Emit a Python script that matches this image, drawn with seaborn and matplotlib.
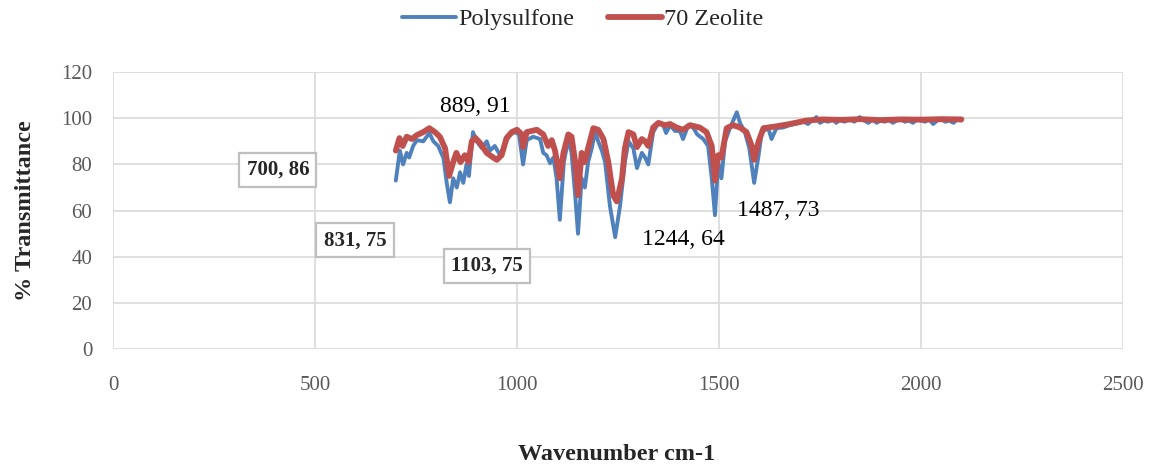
import numpy as np
import pandas as pd
import seaborn as sns
import matplotlib
matplotlib.use("Agg")
import matplotlib.pyplot as plt

# Polysulfone spectrum
pol_wn = [700, 710, 718, 727, 733, 743, 752, 768, 783, 793, 805, 818, 826, 834, 842, 851, 859, 867,
          875, 881, 891, 900, 913, 925, 933, 945, 958, 970, 983, 995, 1005, 1015, 1024, 1040, 1057,
          1065, 1073, 1082, 1090, 1098, 1106, 1116, 1127, 1135, 1144, 1151, 1160, 1168, 1176, 1185,
          1193, 1201, 1210, 1218, 1230, 1243, 1255, 1267, 1276, 1288, 1297, 1309, 1317, 1325, 1337,
          1350, 1362, 1369, 1379, 1391, 1403, 1411, 1424, 1436, 1446, 1461, 1473, 1482, 1490, 1498,
          1506, 1515, 1527, 1544, 1552, 1564, 1575, 1587, 1598, 1606, 1622, 1630, 1642, 1659, 1675,
          1700, 1710, 1720, 1730, 1741, 1750, 1760, 1770, 1782, 1790, 1800, 1810, 1823, 1835, 1848,
          1860, 1870, 1880, 1890, 1900, 1910, 1920, 1930, 1940, 1950, 1960, 1970, 1980, 1990, 2000,
          2010, 2020, 2030, 2040, 2050, 2060, 2070, 2080, 2090, 2100]
pol_t = [73, 86, 80, 85, 83, 88, 90.5, 90, 93.6, 90, 88, 82.7, 72, 63.6, 74, 70, 76.6, 72,
         80, 75, 94, 90, 87, 90, 86, 88, 84, 89, 93, 94, 93, 80, 90.5, 92, 91,
         85, 84, 80.5, 83, 74, 56, 81, 91, 85, 66.7, 50, 74, 70, 81, 87,
         94, 90, 86, 81, 62, 48.5, 62, 81, 90, 87, 78.4, 85, 83, 80, 94,
         98, 97, 93.6, 97, 94.5, 94.5, 91, 97, 96, 93, 91, 88, 74, 58, 81,
         74, 90, 95.7, 102.6, 98, 94, 87, 72, 84, 94, 95.7, 91, 95.7, 96, 97,
         98, 98.5, 97.5, 99, 100.5, 98, 99, 98.5, 99.5, 98, 99.5, 98.5, 99.5, 98.5, 100.5,
         99, 98, 99.5, 98, 99, 98.5, 99.5, 98, 99, 99.5, 98.5, 99, 98, 99.5, 99,
         98.5, 99.5, 97.5, 99, 99.5, 98.5, 99, 98, 99.5, 99]

# 70 Zeolite spectrum
zeo_wn = [700, 709, 717, 727, 740, 752, 768, 783, 797, 809, 822, 832, 842, 850, 860, 871, 880, 888,
          897, 910, 925, 941, 950, 962, 974, 987, 1000, 1012, 1015, 1024, 1049, 1065, 1077, 1086,
          1094, 1106, 1115, 1127, 1135, 1144, 1151, 1160, 1168, 1176, 1189, 1201, 1214, 1226, 1238,
          1247, 1260, 1267, 1276, 1288, 1297, 1309, 1317, 1325, 1337, 1350, 1366, 1379, 1395, 1411,
          1428, 1452, 1469, 1482, 1490, 1498, 1506, 1519, 1535, 1552, 1568, 1581, 1587, 1598, 1610,
          1642, 1675, 1716, 1757, 1800, 1850, 1900, 1950, 2000, 2050, 2100]
zeo_t = [86, 91.4, 88, 92, 91, 92.7, 94, 95.7, 94, 92, 87, 75, 81, 85, 81, 84, 81, 90,
         91.5, 89, 85, 83, 82, 84, 91.4, 94, 95, 93, 87.5, 94, 95, 93, 88, 90.5,
         86, 74, 85, 93, 92, 81, 66.7, 85, 81, 87, 95.7, 95, 91, 81, 66.7,
         64, 74, 87, 94, 93, 87.5, 91, 90, 88, 96, 98, 97, 97.5, 96, 95,
         97, 96, 94, 88, 73, 84, 83, 95.7, 97, 96, 94, 88, 82, 90, 95.7,
         96.5, 97.5, 99, 99.5, 99.3, 99.6, 99.2, 99.5, 99.4, 99.6, 99.5]

# data labels shown on the chart
labels = ["889, 91", "1244, 64", "1487, 73"]
label_xy = [(896, 105), (1411, 47.5), (1646, 60)]
box_labels = ["700, 86", "831, 75", "1103, 75"]
box_xy = [(408, 77.6), (599, 47.2), (926, 36)]

pol = pd.DataFrame({"wn": pol_wn, "t": pol_t})
zeo = pd.DataFrame({"wn": zeo_wn, "t": zeo_t})

sns.set_style("whitegrid", {"grid.color": "#D9D9D9"})
plt.rcParams["font.family"] = ["Liberation Serif", "DejaVu Serif"]

fig = plt.figure(figsize=(11.53, 4.68), dpi=100)
ax = fig.add_axes([0.098, 0.254, 0.876, 0.592])

sns.lineplot(data=pol, x="wn", y="t", color="#4F81BD", linewidth=2.8, label="Polysulfone", ax=ax)
sns.lineplot(data=zeo, x="wn", y="t", color="#C0504D", linewidth=4.2, label="70 Zeolite", ax=ax)

for txt, (x, y) in zip(labels, label_xy):
    ax.text(x, y, txt, ha="center", va="center", fontsize=17, color="black")
for txt, (x, y) in zip(box_labels, box_xy):
    ax.text(x, y, txt, ha="center", va="center", fontsize=15, fontweight="bold",
            bbox=dict(boxstyle="square,pad=0.35", fc="white", ec="#BFBFBF", lw=1.6))

ax.set_xlim(0, 2500)
ax.set_ylim(0, 120)
ax.set_xticks(range(0, 2501, 500))
ax.set_yticks(range(0, 121, 20))
ax.grid(True, color="#D9D9D9", linewidth=1.2)
for s in ax.spines.values():
    s.set_visible(False)
ax.tick_params(axis="both", length=0, labelsize=15, labelcolor="#595959")
ax.tick_params(axis="x", pad=19)
ax.tick_params(axis="y", pad=15)

ax.set_xlabel("")
ax.set_ylabel("% Transmittance", fontsize=17.5, fontweight="bold")
ax.yaxis.set_label_coords(-0.076, 0.5)
fig.text(0.535, 0.028, "Wavenumber cm-1", ha="center", va="center", fontsize=17.5, fontweight="bold")

ax.legend(loc="center", bbox_to_anchor=(0.465, 1.19), ncol=2, frameon=False, fontsize=17.5,
          handlelength=2.2, columnspacing=1.4, handletextpad=0.1)

fig.savefig("out.png", dpi=100)
